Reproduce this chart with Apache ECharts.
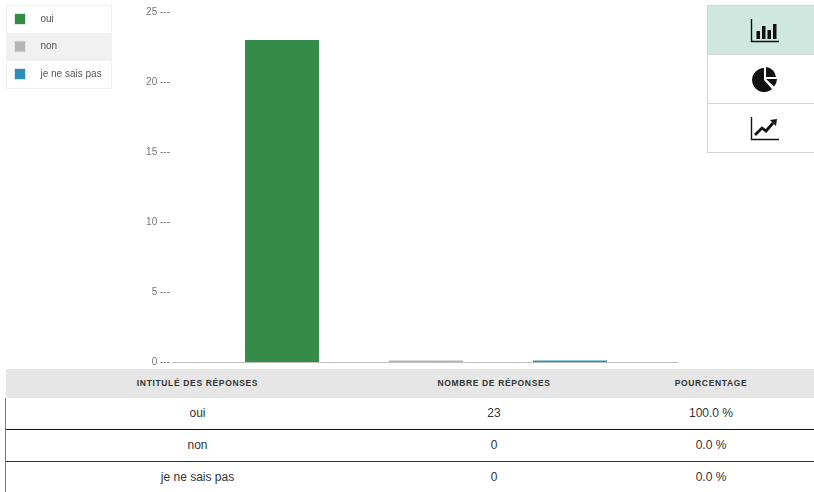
<!DOCTYPE html>
<html><head><meta charset="utf-8">
<script src="https://cdn.jsdelivr.net/npm/echarts@6/dist/echarts.min.js"></script>
<style>
html,body{margin:0;padding:0;background:#fff;width:814px;height:492px;overflow:hidden;font-family:"Liberation Sans",Arial,sans-serif}
#chart{position:absolute;left:0;top:0;width:814px;height:492px;z-index:2}
.abs{position:absolute;box-sizing:border-box}
.cell{position:absolute;transform:translateX(-50%);white-space:nowrap;color:#333;font-size:12px;line-height:14px}
.head{font-weight:bold;font-size:8.5px;letter-spacing:.65px;color:#333;line-height:10px}
.btn{position:absolute;left:707px;width:107px;height:49px;border:1px solid #d4d4d4;border-right:none;box-sizing:border-box;background:#fff;z-index:3}
.btn svg{position:absolute;left:42px;top:10px}
</style></head><body>
<div class="abs" style="left:6px;top:5px;width:106px;height:84px;border:1px solid #f1f1f1"></div>
<div class="abs" style="left:7px;top:33px;width:104px;height:28px;background:#f1f1f1"></div>
<div id="chart"></div>
<div class="btn" style="top:5px;height:50px;background:#cfe8df"><svg width="30" height="28" viewBox="0 0 30 28"><path d="M1.5 3V25.5H29" fill="none" stroke="#111" stroke-width="1.4"/><path d="M6.5 15h3.500v8H6.500zM12 10h3.500v13H12zM17.500 14h3.500v9h-3.500zM23 8h3.500v15H23z" fill="#111"/></svg></div>
<div class="btn" style="top:54px;height:50px"><svg width="30" height="28" viewBox="0 0 30 28"><path d="M14 3v12h-0l8 9A12 12 0 1 1 14 3z" fill="#111"/><path d="M16 2a11 11 0 0 1 10 10H16z" fill="#111"/><path d="M16 14h11a11 11 0 0 1-3 7.500z" fill="#111"/></svg></div>
<div class="btn" style="top:103px;height:50px"><svg width="30" height="28" viewBox="0 0 30 28"><path d="M1.500 3V25.500H29" fill="none" stroke="#111" stroke-width="1.400"/><path d="M5 21l7-7 4 3 7-8" fill="none" stroke="#111" stroke-width="2.800"/><path d="M20 6l7-1-1 7z" fill="#111"/></svg></div>
<div id="table"></div>
<script>
var categories=["oui","non","je ne sais pas"];
var counts=[23,0,0];
var percents=["100.0 %","0.0 %","0.0 %"];
var colors=["#348c48","#b5b5b5","#2d8fb8"];
var headers=["INTITULÉ DES RÉPONSES","NOMBRE DE RÉPONSES","POURCENTAGE"];
var yTicks=[0,5,10,15,20,25];

var colX=[197.5,494,711];
var rowY=[413,445,477];
var h='<div class="abs" style="left:6px;top:369px;width:808px;height:29px;background:#e6e6e6"></div>';
h+='<div class="abs" style="left:5px;top:398px;width:1px;height:94px;background:#777"></div>';
h+='<div class="abs" style="left:6px;top:429px;width:808px;height:1px;background:#111"></div>';
h+='<div class="abs" style="left:6px;top:461px;width:808px;height:1px;background:#333"></div>';
headers.forEach(function(t,i){h+='<div class="cell head" style="left:'+colX[i]+'px;top:378px">'+t+'</div>';});
categories.forEach(function(c,r){
  [c,counts[r],percents[r]].forEach(function(t,i){
    h+='<div class="cell" style="left:'+colX[i]+'px;top:'+(rowY[r]-7)+'px">'+t+'</div>';
  });
});
document.getElementById('table').innerHTML=h;

var chart=echarts.init(document.getElementById('chart'),null,{renderer:'canvas'});
chart.setOption({
  backgroundColor:'transparent',
  animation:false,
  legend:{orient:'vertical',left:14,top:13,itemWidth:11,itemHeight:11,itemGap:15.5,
    icon:'rect',itemStyle:{borderColor:'#e4e4e4',borderWidth:1},
    textStyle:{fontFamily:'Liberation Sans',fontSize:10,color:'#555',padding:[0,0,0,10]},
    selectedMode:false,padding:0,data:categories},
  grid:{left:173,top:12,width:505,height:350},
  xAxis:{type:'value',min:-0.757,max:2.75,splitLine:{show:false},axisTick:{show:false},
    axisLabel:{show:false},axisLine:{show:true,onZero:false,lineStyle:{color:'#bdbdbd',width:1}}},
  yAxis:{type:'value',min:0,max:25,interval:5,splitLine:{show:false},axisLine:{show:false},axisTick:{show:false},
    axisLabel:{margin:3,fontFamily:'Liberation Sans',fontSize:10,color:'#777',padding:[1,0,0,0],
      formatter:function(v){return yTicks.indexOf(v)>=0?v+' ---':'';}}},
  series:categories.map(function(c,i){return {
    name:c,type:'bar',barWidth:74,barGap:'-100%',barMinHeight:1.5,
    itemStyle:{color:colors[i]},
    data:[[i,counts[i]]]
  };})
});
</script>
</body></html>
